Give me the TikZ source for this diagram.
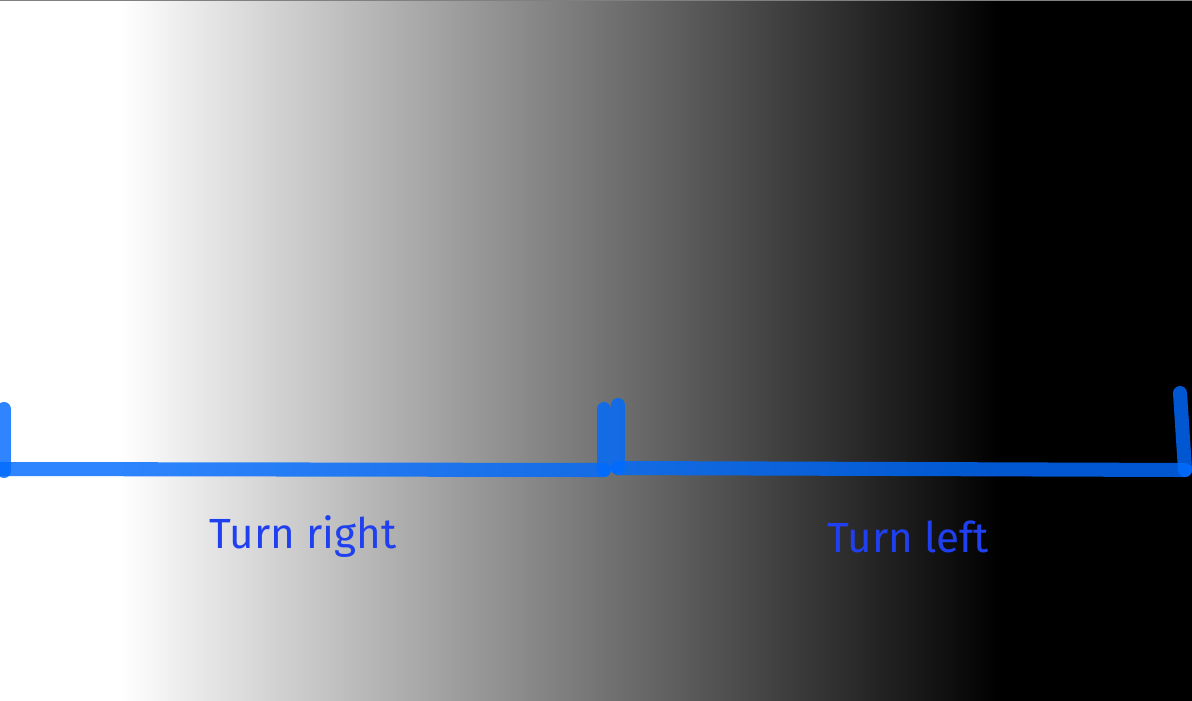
\documentclass[tikz,border=0pt]{standalone}
\usepackage{fontspec}
\setmainfont{Fira Sans}
\usepackage{xcolor}
\usepackage{tikz}
\usetikzlibrary{positioning}

\definecolor{tickblue}{RGB}{0,107,255}
\definecolor{labelblue}{RGB}{32,64,240}

\tikzset{
  bracketline/.style={line width=8pt, line cap=round, draw=tickblue, draw opacity=0.82},
  turnlabel/.style={text=labelblue, font=\fontsize{24}{28}\selectfont, inner sep=0pt},
}

\begin{document}
\begin{tikzpicture}[x=0.02cm, y=-0.02cm]
    \useasboundingbox (0,0) rectangle (1192,700);
    % background gradient
    \fill[white] (-5,-5) rectangle (121,705);
    \shade[left color=white, middle color=black!47, right color=black] (120,-5) rectangle (1000,705);
    \fill[black] (999,-5) rectangle (1197,705);
    \draw[gray, line width=1pt] (0,0.5) -- (1192,0.5);

    % bracket ends
    \coordinate (rl-top) at (4,409);
    \coordinate (rl-bot) at (4,471);
    \coordinate (rr-top) at (604,409);
    \coordinate (rr-bot) at (604,470);
    \coordinate (ll-top) at (618,405);
    \coordinate (ll-bot) at (618,468);
    \coordinate (lr-top) at (1180,393);
    \coordinate (lr-bot) at (1185,470);

    % turn right
    \draw[bracketline] (rl-top) -- (rl-bot);
    \draw[bracketline] (-5,469) -- (rr-bot);
    \draw[bracketline] (rr-top) -- (rr-bot);
    % turn left
    \draw[bracketline] (ll-top) -- (ll-bot);
    \draw[bracketline] (ll-bot) -- (lr-bot);
    \draw[bracketline] (lr-top) -- (lr-bot);

    \node[turnlabel] (right) at (303,537) {Turn right};
    \node[turnlabel] (left) at (908,537) {Turn left};
\end{tikzpicture}
\end{document}
